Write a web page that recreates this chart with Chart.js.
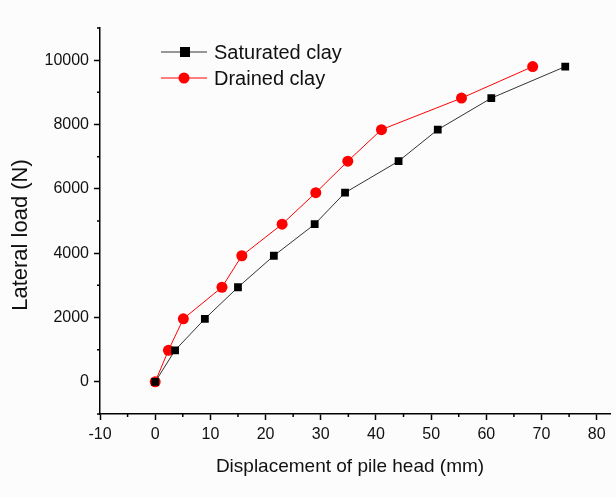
<!DOCTYPE html>
<html>
<head>
<meta charset="utf-8">
<script src="https://cdn.jsdelivr.net/npm/chart.js@4"></script>
<style>
  html, body { margin: 0; padding: 0; background: #fcfcfc; }
  #wrap { width: 616px; height: 497px; }
</style>
</head>
<body>
<div id="wrap"><canvas id="loadChart" width="616" height="497"></canvas></div>
<script>
// lateral load steps (N), same for both tests
let load = [0, 980, 1960, 2940, 3920, 4900, 5880, 6860, 7840, 8820, 9800];
// pile head displacement (mm)
let saturated = [0, 3.6, 9.0, 15.0, 21.5, 28.9, 34.4, 44.1, 51.2, 60.9, 74.3];
let drained = [0, 2.4, 5.1, 12.1, 15.7, 23.0, 29.1, 34.9, 41.0, 55.5, 68.4];

let xTicks = [-10, 0, 10, 20, 30, 40, 50, 60, 70, 80];
let yTicks = [0, 2000, 4000, 6000, 8000, 10000];

const font = "'Liberation Sans', Arial, sans-serif";

function points(xs) {
  return xs.map((x, i) => ({ x: x, y: load[i] }));
}

// minor ticks, axis titles and the legend box
const extras = {
  id: "extras",
  afterDraw(chart) {
    const ctx = chart.ctx;
    const xs = chart.scales.x;
    const ys = chart.scales.y;
    const area = chart.chartArea;
    ctx.save();
    ctx.strokeStyle = "#000";
    ctx.lineWidth = 1.5;
    ctx.beginPath();
    for (let i = 0; i < xTicks.length; i++) {
      const px = xs.getPixelForValue(xTicks[i] + 5);
      if (px > area.right) break;
      ctx.moveTo(px, area.bottom);
      ctx.lineTo(px, area.bottom + 3);
    }
    for (let i = 0; i <= yTicks.length; i++) {
      const v = i * 2000 - 1000;
      const py = ys.getPixelForValue(v);
      ctx.moveTo(area.left, py);
      ctx.lineTo(area.left - 3, py);
    }
    ctx.stroke();

    // axis titles
    ctx.fillStyle = "#111";
    ctx.textAlign = "center";
    ctx.textBaseline = "middle";
    ctx.font = "19px " + font;
    ctx.fillText("Displacement of pile head (mm)", 350, 467);
    ctx.save();
    ctx.translate(21, 235);
    ctx.rotate(-Math.PI / 2);
    ctx.font = "22px " + font;
    ctx.fillText("Lateral load (N)", 0, 0);
    ctx.restore();

    // legend
    const items = [
      { text: "Saturated clay", color: "#000000", shape: "rect" },
      { text: "Drained clay", color: "#ff0000", shape: "circle" },
    ];
    ctx.font = "20px " + font;
    ctx.textAlign = "left";
    items.forEach((it, i) => {
      const y = 52 + i * 26;
      ctx.strokeStyle = it.color === "#000000" ? "#333" : it.color;
      ctx.lineWidth = 1;
      ctx.beginPath();
      ctx.moveTo(161, y);
      ctx.lineTo(207, y);
      ctx.stroke();
      ctx.fillStyle = it.color;
      if (it.shape === "rect") {
        ctx.fillRect(180, y - 5, 10, 10);
      } else {
        ctx.beginPath();
        ctx.arc(184, y, 5.5, 0, Math.PI * 2);
        ctx.fill();
      }
      ctx.fillStyle = "#111";
      ctx.fillText(it.text, 214, y + 1);
    });
    ctx.restore();
  },
};

const data = {
  datasets: [
    {
      label: "Saturated clay",
      data: points(saturated),
      borderColor: "#333333",
      borderWidth: 1,
      backgroundColor: "#000000",
      pointStyle: "rect",
      pointRadius: 5.5,
      pointBorderWidth: 0,
    },
    {
      label: "Drained clay",
      data: points(drained),
      borderColor: "#ff0000",
      borderWidth: 1,
      backgroundColor: "#ff0000",
      pointStyle: "circle",
      pointRadius: 5.5,
      pointBorderWidth: 0,
    },
  ],
};

const config = {
  type: "line",
  data: data,
  options: {
    responsive: false,
    animation: false,
    maintainAspectRatio: false,
    layout: { padding: { top: 28, right: 4, bottom: 16, left: 12 } },
    plugins: {
      legend: { display: false },
      tooltip: { enabled: false },
    },
    scales: {
      x: {
        type: "linear",
        min: -10,
        max: 82.5,
        afterBuildTicks(scale) {
          scale.ticks = xTicks.map((v) => ({ value: v }));
        },
        afterFit(scale) {
          scale.height = 67;
        },
        grid: { drawOnChartArea: false, tickLength: 6, tickColor: "#000", tickWidth: 1.5 },
        border: { color: "#000", width: 1.5 },
        ticks: { color: "#111", font: { family: font, size: 16 }, padding: 5, maxRotation: 0 },
      },
      y: {
        type: "linear",
        min: -1000,
        max: 11000,
        afterBuildTicks(scale) {
          scale.ticks = yTicks.map((v) => ({ value: v }));
        },
        afterFit(scale) {
          scale.width = 88;
        },
        grid: { drawOnChartArea: false, tickLength: 6, tickColor: "#000", tickWidth: 1.5 },
        border: { color: "#000", width: 1.5 },
        ticks: {
          color: "#111",
          font: { family: font, size: 16 },
          padding: 5,
          callback: (v) => String(v),
        },
      },
    },
  },
  plugins: [extras],
};

var loadChart = new Chart(document.getElementById("loadChart"), config);
</script>
</body>
</html>
